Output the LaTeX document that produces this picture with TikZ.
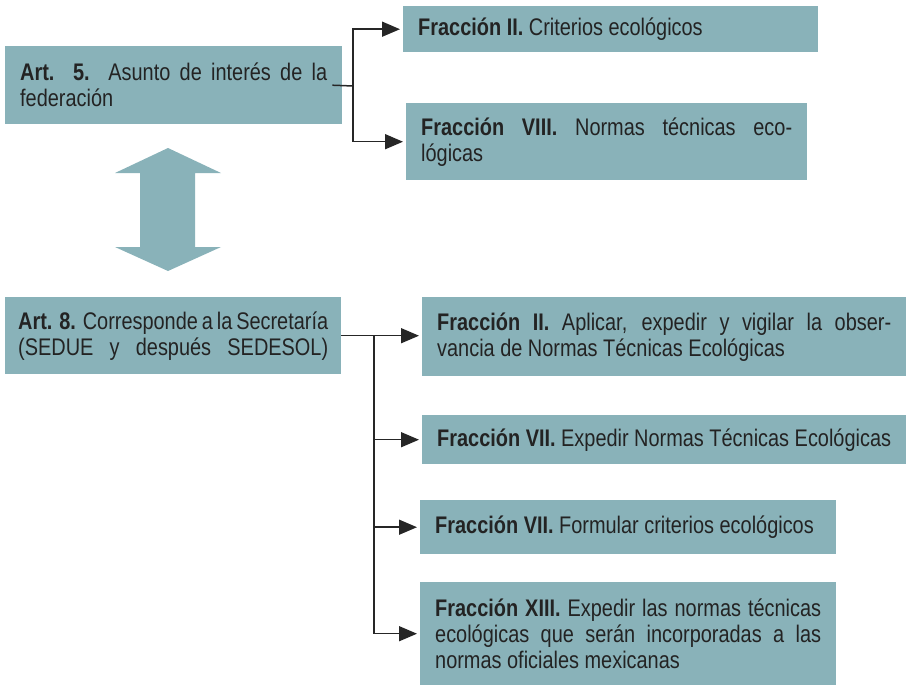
\documentclass[tikz,border=0pt]{standalone}
\usepackage{fontspec}
\setmainfont{Liberation Sans}[FakeStretch=0.83]
\usetikzlibrary{arrows.meta}
\hyphenpenalty=10000

\definecolor{cajafondo}{RGB}{137,178,185}
\definecolor{texto}{RGB}{35,35,35}

\tikzset{
  caja/.style={fill=cajafondo, anchor=north west, inner xsep=15pt, inner ysep=0pt,
    text width=#1, align=justify, text=texto, font=\fontsize{24}{26}\selectfont},
  linea/.style={line width=1.5pt, draw=black!85},
  flecha/.style={linea, shorten >=3pt, -{Triangle[length=18pt,width=15pt]}}
}

\begin{document}
\begin{tikzpicture}[x=1pt,y=-1pt]
  \useasboundingbox (0,0) rectangle (909,685);

  \node[caja=307pt,minimum height=78pt] (art5) at (5,46)
  {\textbf{Art. 5.} Asunto de interés de la\linebreak federación};
  \node[caja=385pt,minimum height=46pt] (fracII) at (403,6)
  {\textbf{Fracción II.} Criterios ecológicos};
  \node[caja=371pt,minimum height=77pt] (fracVIII) at (406,103)
  {\textbf{Fracción VIII.} Normas técnicas eco-\linebreak lógicas};

  \node[caja=310pt,minimum height=77pt,inner xsep=13pt] (art8) at (5,297)
  {\makebox[\linewidth][s]{\textbf{Art. 8.} Corresponde a la Secretaría}\linebreak
   \makebox[\linewidth][s]{(SEDUE y después SEDESOL)}};
  \node[caja=454pt,minimum height=79pt] (fracIIb) at (422,297)
  {\textbf{Fracción II.} Aplicar, expedir y vigilar la obser-\linebreak vancia de Normas Técnicas Ecológicas};
  \node[caja=454pt,minimum height=49pt] (fracVIIa) at (422,415)
  {\textbf{Fracción VII.} Expedir Normas Técnicas Ecológicas};
  \node[caja=386pt,minimum height=54pt] (fracVIIb) at (420,500)
  {\textbf{Fracción VII.} Formular criterios ecológicos};
  \node[caja=386pt,minimum height=103pt] (fracXIII) at (420,582)
  {\textbf{Fracción XIII.} Expedir las normas técnicas\linebreak ecológicas que serán incorporadas a las\linebreak normas oficiales mexicanas};

  % flecha doble entre los articulos
  \fill[cajafondo] (168,148) -- (221,173) -- (195,173) -- (195,247) -- (221,247)
    -- (168,271) -- (115,247) -- (140,247) -- (140,173) -- (115,173) -- cycle;

  % art. 5
  \coordinate (r1) at (353,86);
  \draw[linea] ([xshift=-10pt]art5.east) -- (r1);
  \draw[flecha] (r1) |- (fracII.west);
  \draw[flecha] (r1) |- (fracVIII.west);

  % art. 8
  \coordinate (r2) at (art8.east -| 374,0);
  \draw[flecha] (art8.east) -- (art8.east -| fracIIb.west);
  \draw[linea] (r2) -- (r2 |- fracXIII.west);
  \draw[flecha] (r2 |- fracVIIa.west) -- (fracVIIa.west);
  \draw[flecha] (r2 |- fracVIIb.west) -- (fracVIIb.west);
  \draw[flecha] (r2 |- fracXIII.west) -- (fracXIII.west);
\end{tikzpicture}
\end{document}
